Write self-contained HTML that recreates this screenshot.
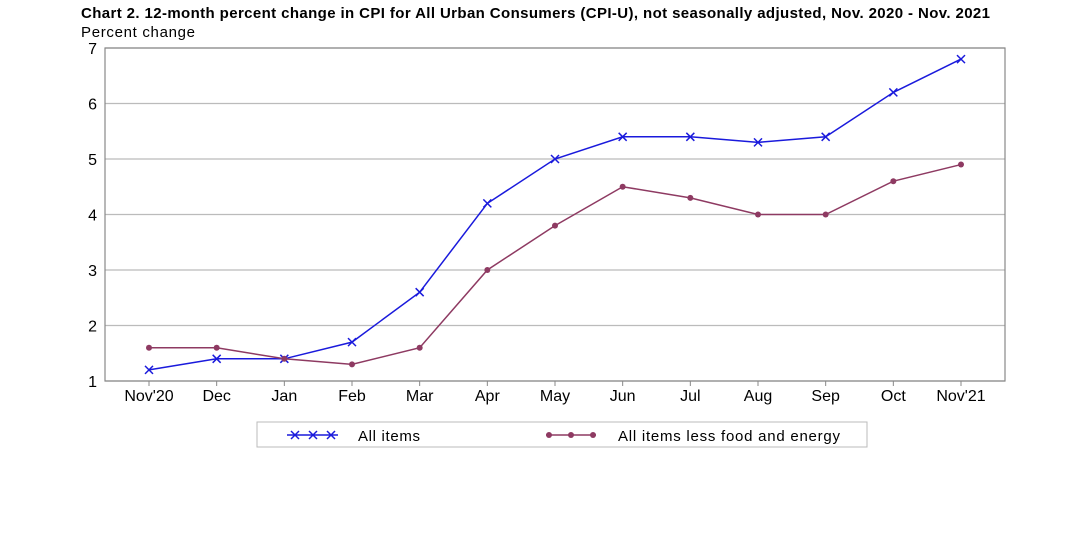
<!DOCTYPE html>
<html><head><meta charset="utf-8"><style>
body{margin:0;background:#fff;width:1073px;height:554px;overflow:hidden;font-family:"Liberation Sans","DejaVu Sans",sans-serif}
</style></head><body>
<svg id="chart" width="1073" height="554" xmlns="http://www.w3.org/2000/svg" font-family="Liberation Sans, DejaVu Sans, sans-serif">
<text x="81" y="18" font-size="15" font-weight="bold" fill="#000" textLength="909" lengthAdjust="spacing">Chart 2. 12-month percent change in CPI for All Urban Consumers (CPI-U), not seasonally adjusted, Nov. 2020 - Nov. 2021</text>
<text x="81" y="37" font-size="15" fill="#000" textLength="114" lengthAdjust="spacing">Percent change</text>
<g id="grid"></g><g id="axes"></g><g id="series"></g>
<g>
<rect x="257" y="422" width="610" height="25" fill="#fff" stroke="#bbb"/>
<g>
<line x1="287" y1="435" x2="338" y2="435" stroke="#1a1adc" stroke-width="1.5"/>
<path d="M291,431l8,8M299,431l-8,8M309,431l8,8M317,431l-8,8M327,431l8,8M335,431l-8,8" stroke="#1a1adc" stroke-width="1.5"/>
<text x="358" y="441" font-size="15" textLength="62" lengthAdjust="spacing">All items</text></g>
<g>
<line x1="546" y1="435" x2="596" y2="435" stroke="#8e3a62" stroke-width="1.5"/>
<circle cx="549" cy="435" r="3" fill="#8e3a62"/><circle cx="571" cy="435" r="3" fill="#8e3a62"/><circle cx="593" cy="435" r="3" fill="#8e3a62"/>
<text x="618" y="441" font-size="15" textLength="222" lengthAdjust="spacing">All items less food and energy</text></g>
</g>
</svg>
<script>
const categories=["Nov'20","Dec","Jan","Feb","Mar","Apr","May","Jun","Jul","Aug","Sep","Oct","Nov'21"];
const allItems=[1.2,1.4,1.4,1.7,2.6,4.2,5.0,5.4,5.4,5.3,5.4,6.2,6.8];
const coreItems=[1.6,1.6,1.4,1.3,1.6,3.0,3.8,4.5,4.3,4.0,4.0,4.6,4.9];
const yTicks=[1,2,3,4,5,6,7];
const NS="http://www.w3.org/2000/svg";
const L=105,R=1005,T=48,B=381;
const x=i=>149+i*(961-149)/(categories.length-1);
const y=v=>B-(v-1)*(B-T)/6;
function mk(tag,attrs,parent){const e=document.createElementNS(NS,tag);for(const k in attrs)e.setAttribute(k,attrs[k]);parent.appendChild(e);return e;}
const grid=document.getElementById('grid'),axes=document.getElementById('axes'),ser=document.getElementById('series');
yTicks.forEach(t=>{
 const g=mk('line',{x1:L,x2:R,y1:y(t),y2:y(t),stroke:'#bbb','stroke-width':1.2},grid);
 
 
 const tx=mk('text',{x:L-8,y:y(t)+6,'font-size':16,'text-anchor':'end'},axes);tx.textContent=t;
 
 
});
const fr=mk('rect',{x:L,y:T,width:R-L,height:B-T,fill:'none',stroke:'#888','stroke-width':1.2},axes);


categories.forEach((c,i)=>{
 mk('line',{x1:x(i),x2:x(i),y1:B,y2:B+5,stroke:'#888'},axes);
 const tx=mk('text',{x:x(i),y:B+20,'font-size':16,'text-anchor':'middle'},axes);tx.textContent=c;
 
 
});
function line(data,color,name){
 const p=mk('polyline',{points:data.map((v,i)=>x(i)+','+y(v)).join(' '),fill:'none',stroke:color,'stroke-width':1.5},ser);
 
 
}
line(allItems,'#1a1adc','all-items');
line(coreItems,'#8e3a62','core');
allItems.forEach((v,i)=>{
 const m=mk('path',{d:`M${x(i)-4},${y(v)-4}l8,8M${x(i)+4},${y(v)-4}l-8,8`,stroke:'#1a1adc','stroke-width':1.5},ser);
 
 
});
coreItems.forEach((v,i)=>{
 const m=mk('circle',{cx:x(i),cy:y(v),r:3,fill:'#8e3a62'},ser);
 
 
});
</script>
</body></html>
